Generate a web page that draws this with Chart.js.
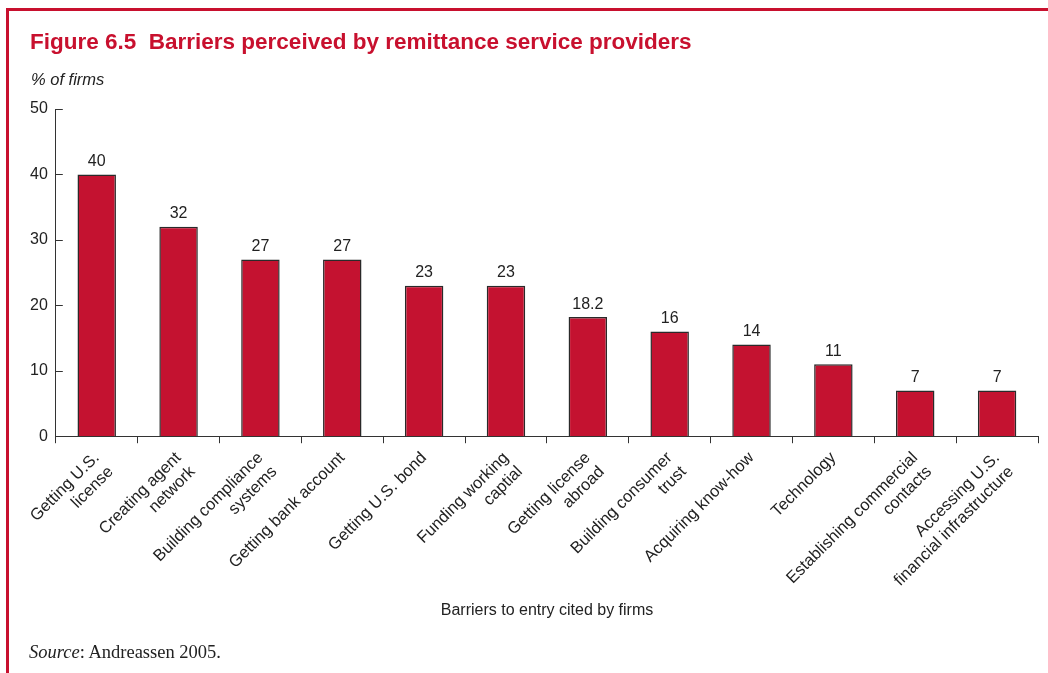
<!DOCTYPE html>
<html>
<head>
<meta charset="utf-8">
<script src="https://cdn.jsdelivr.net/npm/chart.js@4"></script>
<style>
  body { margin: 0; background: #fff; }
  #wrap { position: relative; width: 1048px; height: 673px; overflow: hidden; font-family: "Liberation Sans", Arial, sans-serif; }
  #frameTop { position: absolute; left: 6px; top: 8px; width: 1042px; height: 3px; background: #c8102e; }
  #frameLeft { position: absolute; left: 6px; top: 8px; width: 3px; height: 665px; background: #c8102e; }
  #title { position: absolute; left: 30px; top: 29px; font-size: 22.5px; font-weight: bold; color: #c8102e; white-space: pre; }
  #unit { position: absolute; left: 31px; top: 70px; font-size: 16.5px; font-style: italic; color: #222; }
  #xtitle { position: absolute; left: 0; width: 1094px; text-align: center; top: 601px; font-size: 16px; color: #222; }
  #source { position: absolute; left: 29px; top: 642px; font-size: 18.5px; font-family: "Liberation Serif", "Times New Roman", serif; color: #222; }
  canvas { position: absolute; left: 0; top: 0; }
</style>
</head>
<body>
<div id="wrap">
  <canvas id="myChart" width="1048" height="673"></canvas>
  <div id="frameTop"></div>
  <div id="frameLeft"></div>
  <div id="title">Figure 6.5  Barriers perceived by remittance service providers</div>
  <div id="unit">% of firms</div>
  <div id="xtitle">Barriers to entry cited by firms</div>
  <div id="source"><i>Source</i>: Andreassen 2005.</div>
</div>
<script>
const barriers = [
  ['Getting U.S.', 'license'],
  ['Creating agent', 'network'],
  ['Building compliance', 'systems'],
  'Getting bank account',
  'Getting U.S. bond',
  ['Funding working', 'captial'],
  ['Getting license', 'abroad'],
  ['Building consumer', 'trust'],
  'Acquiring know-how',
  'Technology',
  ['Establishing commercial', 'contacts'],
  ['Accessing U.S.', 'financial infrastructure']
];
const firmShares = [40, 32, 27, 27, 23, 23, 18.2, 16, 14, 11, 7, 7];
const yTicks = [0, 10, 20, 30, 40, 50];

const textColor = '#222';
const barRed = '#c41230';
const fontFam = '"Liberation Sans", Arial, sans-serif';

// value labels over bars + inward ticks on the y axis
const extras = {
  id: 'extras',
  afterDatasetsDraw(chart) {
    const c = chart.ctx;
    const meta = chart.getDatasetMeta(0);
    c.save();
    c.fillStyle = textColor;
    c.font = '16px ' + fontFam;
    c.textAlign = 'center';
    c.textBaseline = 'bottom';
    meta.data.forEach((bar, i) => {
      c.fillText(String(firmShares[i]), bar.x, bar.y - 5);
    });
    const ys = chart.scales.y;
    c.strokeStyle = '#333';
    c.lineWidth = 1;
    yTicks.forEach(v => {
      const py = Math.round(ys.getPixelForValue(v)) + 0.5;
      c.beginPath();
      c.moveTo(ys.right, py);
      c.lineTo(ys.right + 7, py);
      c.stroke();
    });
    c.restore();
  }
};

new Chart(document.getElementById('myChart'), {
  type: 'bar',
  data: {
    labels: barriers,
    datasets: [{
      data: firmShares,
      backgroundColor: barRed,
      borderColor: '#2a2a2a',
      borderWidth: 1.5,
      categoryPercentage: 1,
      barPercentage: 0.47
    }]
  },
  options: {
    responsive: false,
    animation: false,
    layout: { padding: { left: 22, right: 10, top: 109, bottom: 66 } },
    plugins: { legend: { display: false }, tooltip: { enabled: false } },
    scales: {
      y: {
        min: 0,
        max: 50,
        afterBuildTicks: s => { s.ticks = yTicks.map(v => ({ value: v })); },
        grid: { display: false, drawTicks: false },
        border: { display: true, color: '#333', width: 1 },
        ticks: { color: textColor, padding: 8, font: { size: 16, family: fontFam } }
      },
      x: {
        grid: { offset: true, drawOnChartArea: false, drawTicks: true, tickLength: 7, color: '#333' },
        border: { display: true, color: '#333', width: 1 },
        ticks: {
          color: textColor,
          minRotation: 45,
          maxRotation: 45,
          autoSkip: false,
          padding: 5,
          font: { size: 16.5, family: fontFam }
        }
      }
    }
  },
  plugins: [extras]
});
</script>
</body>
</html>
